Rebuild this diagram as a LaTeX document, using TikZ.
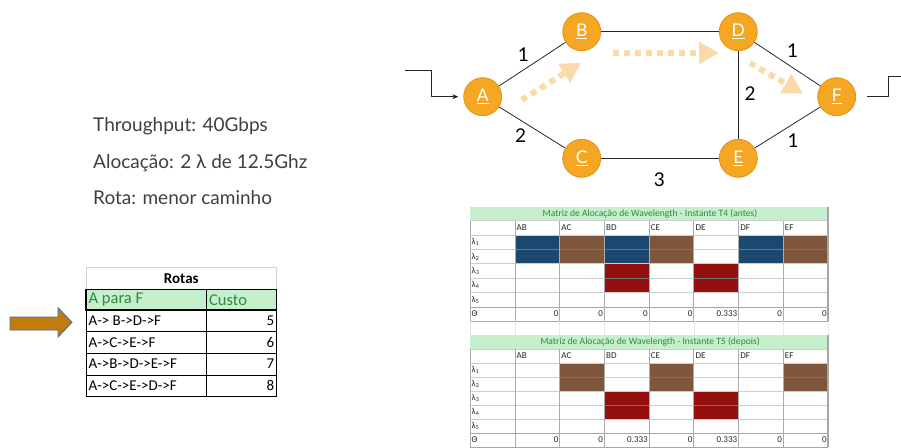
\documentclass[tikz,border=0pt]{standalone}
\usepackage{fontspec}
\setmainfont{Lato}
\newfontfamily\xlfont{Carlito}
\usetikzlibrary{arrows.meta}

\definecolor{nodeor}{HTML}{F5A623}
\definecolor{nodeedge}{HTML}{E3921C}
\definecolor{peach}{HTML}{FCD9A8}
\definecolor{goodfill}{HTML}{C6EFCE}
\definecolor{goodtext}{HTML}{2E8B36}
\definecolor{wblue}{HTML}{1C476E}
\definecolor{wbrown}{HTML}{7E563C}
\definecolor{wred}{HTML}{94100F}
\definecolor{txtgray}{HTML}{3F3F3F}
\definecolor{arrowfill}{HTML}{C27C0E}
\definecolor{arrowline}{HTML}{41719C}

% one wavelength allocation matrix, drawn in row units (y) below its header top
% #1 title, #2 coloured blocks col/firstrow/colour, #3 theta row, #4 title top
\newcommand\wavegrid[4]{%
  \fill[goodfill] (470,#4) rectangle (828,0);
  \node[mtitle] at (650,{#4/2}) {#1};
  \foreach \c/\r/\col in {#2} {
    \fill[\col] ({515+(\c-1)*44.714},\r) rectangle ({515+\c*44.714},\r+2);
  }
  \foreach \k in {1,...,6} \draw[hline] (470,\k) -- (828,\k);
  \draw[hline] (470,0) -- (828,0);
  \draw[thline] (470,6) -- (828,6);
  \draw[thline] (470,7) -- (828,7);
  \foreach \c/\r/\col in {#2} {
    \draw[black!55, line width=0.6pt] ({515+(\c-1)*44.714},\r+1) -- ({515+\c*44.714},\r+1);
  }
  \foreach \k in {0,...,6} \draw[vline] ({515+\k*44.714},0) -- ({515+\k*44.714},7);
  \draw[vline] (470,0) -- (470,7);
  \draw[gray!70, line width=1.2pt] (828,#4) -- (828,7);
  \foreach \h [count=\i] in {AB,AC,BD,CE,DE,DF,EF}
    \node[mcell, anchor=west] at ({515+(\i-1)*44.714+1.5},0.5) {\h};
  \foreach \i in {1,...,5}
    \node[mcell, anchor=west] at (471.5,\i+0.5) {λ\textsubscript{\i}};
  \node[mcell, anchor=west] at (471.5,6.5) {Θ};
  \foreach \v [count=\i] in {#3}
    \node[mcell, anchor=east] at ({515+\i*44.714-1.2},6.5) {\v};
}

\begin{document}
\begin{tikzpicture}[x=1pt, y=-1pt,
  city/.style={circle, fill=nodeor, draw=nodeedge, line width=0.8pt,
    minimum size=38pt, inner sep=0pt, text=white,
    font=\fontsize{17.5}{17.5}\selectfont},
  link/.style={draw=black!85, line width=0.8pt},
  cost/.style={font=\fontsize{19}{19}\selectfont, inner sep=0pt},
  flow/.style={draw=peach, line width=6pt, dash pattern=on 6pt off 5pt,
    -{Triangle[length=20pt, width=21pt]}},
  info/.style={anchor=base west, text=txtgray, inner sep=0pt,
    font=\fontsize{19}{19}\selectfont},
  mtitle/.style={text=goodtext, inner sep=0pt, font=\xlfont\fontsize{9.6}{10}\selectfont},
  mcell/.style={inner sep=0pt, text=black!85, font=\xlfont\fontsize{9}{10}\selectfont},
  hline/.style={draw=gray!40, line width=0.6pt},
  thline/.style={draw=gray!70, line width=0.8pt},
  vline/.style={draw=gray!65, line width=0.8pt},
  rcell/.style={inner sep=0pt, font=\xlfont\fontsize{15}{16}\selectfont},
]
\useasboundingbox (0,0) rectangle (901,447);

% ---------------- network ----------------
\node[city] (A) at (482.7,96.7) {\underline{A}};
\node[city] (B) at (581.7,31.7) {\underline{B}};
\node[city] (C) at (581.7,158.3) {\underline{C}};
\node[city] (D) at (738.3,31.7) {\underline{D}};
\node[city] (E) at (738.3,158.3) {\underline{E}};
\node[city] (F) at (836.7,96.7) {\underline{F}};

\draw[link] (A) -- (B);
\draw[link] (A) -- (C);
\draw[link] (B) -- (D);
\draw[link] (C) -- (E);
\draw[link] (D) -- (E);
\draw[link] (D) -- (F);
\draw[link] (E) -- (F);

\node[cost] (cAB) at (523.3,55) {1};
\node[cost] (cAC) at (520.7,136) {2};
\node[cost] (cDE) at (750,94) {2};
\node[cost] (cDF) at (792.7,51) {1};
\node[cost] (cEF) at (793,141) {1};
\node[cost] (cCE) at (659.3,180) {3};

% ingress and egress lines
\coordinate (inA) at (405,70);
\coordinate (outF) at (901,76.7);
\draw[black!85, line width=0.7pt, -{Stealth[length=6pt, width=5pt]}, shorten >=5pt]
  (inA) -- (431.7,70) |- (A.west);
\draw[black!85, line width=0.7pt] ([xshift=11pt]F.east) -- (888.3,96.7) |- (outF);

% chosen light path A -> B -> D -> F
\coordinate (p1) at (521.7,100);
\coordinate (p2) at (581,62.7);
\coordinate (p3) at (613,53);
\coordinate (p4) at (719,53);
\coordinate (p5) at (750,63);
\coordinate (p6) at (803,93.5);
\draw[flow] (p1) -- (p2);
\draw[flow] (p3) -- (p4);
\draw[flow] (p5) -- (p6);

% ---------------- request description ----------------
\node[info] (t1) at (93,131) {Throughput: 40Gbps};
\node[info] (t2) at (93,168) {Alocação: 2 λ de 12.5Ghz};
\node[info] (t3) at (93,204.5) {Rota: menor caminho};

% ---------------- routes table ----------------
\draw[fill=arrowfill, draw=arrowline, line width=0.9pt]
  (10,317) -- (58,317) -- (58,307.7) -- (72,322.3) -- (58,337) -- (58,330) -- (10,330) -- cycle;

\draw[gray!35, line width=0.6pt] (86,289.3) |- (276.7,267) -- (276.7,289.3);
\node[rcell, font=\xlfont\bfseries\fontsize{15}{16}\selectfont] (rt) at (181.3,278.5) {Rotas};
\fill[goodfill] (86,289.3) rectangle (276.7,310);
\draw[black, line width=1.1pt] (86,289.3) rectangle (276.7,310);
\draw[black, line width=1.1pt] (206.7,289.3) -- (206.7,310);
\node[rcell, anchor=west, text=goodtext, font=\xlfont\fontsize{16.5}{17}\selectfont] (h1) at (88.5,300) {A para F};
\node[rcell, anchor=west, text=goodtext, font=\xlfont\fontsize{16.5}{17}\selectfont] (h2) at (209,300) {Custo};
\foreach \ya/\yb in {310/331.7, 331.7/353, 353/375, 375/396}
  \draw[black, line width=0.7pt] (86,\ya) rectangle (206.7,\yb) (206.7,\ya) rectangle (276.7,\yb);
\foreach \r/\yc/\v in {A-> B->D->F/321/5, A->C->E->F/342.5/6, A->B->D->E->F/364/7, A->C->E->D->F/385.5/8} {
  \node[rcell, anchor=west] at (88.5,\yc) {\r};
  \node[rcell, anchor=east] at (274.5,\yc) {\v};
}

% ---------------- wavelength matrices ----------------
\begin{scope}[shift={(0,220.5)}, y=-14.4pt]
  \wavegrid{Matriz de Alocação de Wavelength - Instante T4 (antes)}
    {1/1/wblue, 2/1/wbrown, 3/1/wblue, 3/3/wred, 4/1/wbrown, 5/3/wred, 6/1/wblue, 7/1/wbrown}
    {0,0,0,0,0.333,0,0}{-0.93}
\end{scope}
% empty spreadsheet row between the two matrices
\foreach \k in {0,...,7} \draw[gray!20, line width=0.6pt] ({515+\k*44.714},321.3) -- ({515+\k*44.714},335);
\draw[gray!20, line width=0.6pt] (470,321.3) -- (470,335);
\begin{scope}[shift={(0,349)}, y=-14pt]
  \wavegrid{Matriz de Alocação de Wavelength - Instante T5 (depois)}
    {2/1/wbrown, 3/3/wred, 4/1/wbrown, 5/3/wred, 7/1/wbrown}
    {0,0,0.333,0,0.333,0,0}{-1}
\end{scope}
\end{tikzpicture}
\end{document}
